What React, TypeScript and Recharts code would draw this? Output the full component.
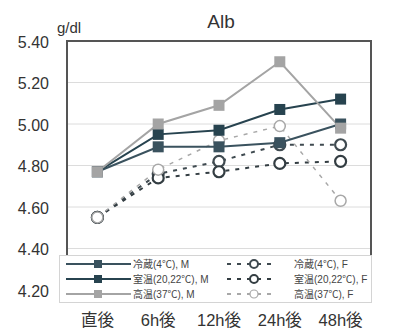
import { CartesianGrid, Legend, Line, LineChart, ReferenceArea, XAxis, YAxis } from "recharts"

const categories = ["直後", "6h後", "12h後", "24h後", "48h後"]
const coldM = [4.77, 4.89, 4.89, 4.91, 5.0]
const roomM = [4.77, 4.95, 4.97, 5.07, 5.12]
const hotM = [4.77, 5.0, 5.09, 5.3, 4.98]
const coldF = [4.55, 4.76, 4.82, 4.9, 4.9]
const roomF = [4.55, 4.74, 4.77, 4.81, 4.82]
const hotF = [4.55, 4.78, 4.92, 4.99, 4.63]
const yTicks = [4.2, 4.4, 4.6, 4.8, 5.0, 5.2, 5.4]

const mSeries = [
  { key: "coldM", name: "冷蔵(4℃), M", color: "#3a525e" },
  { key: "roomM", name: "室温(20,22℃), M", color: "#27434f" },
  { key: "hotM", name: "高温(37℃), M", color: "#a4a4a4" },
]
const fSeries = [
  { key: "coldF", name: "冷蔵(4℃), F", color: "#3f4a50" },
  { key: "roomF", name: "室温(20,22℃), F", color: "#333d42" },
  { key: "hotF", name: "高温(37℃), F", color: "#a8a8a8" },
]

// numeric x so the plot frame can span the half-category margins
const data = categories.map((c, i) => ({
  idx: i,
  cat: c,
  coldM: coldM[i],
  roomM: roomM[i],
  hotM: hotM[i],
  coldF: coldF[i],
  roomF: roomF[i],
  hotF: hotF[i],
}))
const xTicks = categories.map((_, i) => i)

const FONT = "'Liberation Sans', Arial, 'Noto Sans CJK JP', sans-serif"

const squareDot = (color: string) => (props: any) => {
  const { cx, cy, index } = props
  return <rect key={`sq-${index}`} x={cx - 5.5} y={cy - 5.5} width={11} height={11} fill={color} />
}

const circleDot = (color: string, w: number) => (props: any) => {
  const { cx, cy, index } = props
  return <circle key={`ci-${index}`} cx={cx} cy={cy} r={5.5} fill="#fff" stroke={color} strokeWidth={w} />
}

const LegendBox = () => {
  const rows = [0, 1, 2]
  return (
    <div style={{ width: 313, height: 48, background: "#fff", border: "1px solid #d4d4d4", boxSizing: "border-box" }}>
      <svg width={311} height={46} style={{ display: "block" }}>
        {rows.map((i) => {
          const y = 8 + i * 15
          const m = mSeries[i]
          const f = fSeries[i]
          return (
            <g key={i}>
              <line x1={6} x2={71} y1={y} y2={y} stroke={m.color} strokeWidth={2} />
              <rect x={34} y={y - 4} width={8} height={8} fill={m.color} />
              <text x={73} y={y} dominantBaseline="central" fontSize={10} fill="#444" fontFamily={FONT}>
                {m.name}
              </text>
              <line x1={167} x2={217} y1={y} y2={y} stroke={f.color} strokeWidth={2} strokeDasharray="4 6" />
              <circle cx={194} cy={y} r={4} fill="#fff" stroke={f.color} strokeWidth={i === 2 ? 1.2 : 2} />
              <text x={234} y={y} dominantBaseline="central" fontSize={10} fill="#444" fontFamily={FONT}>
                {f.name}
              </text>
            </g>
          )
        })}
      </svg>
    </div>
  )
}

export default function App() {
  return (
    <div style={{ position: "absolute", left: 0, top: 0, background: "#fff" }}>
      <LineChart width={393} height={331} data={data} margin={{ top: 41, right: 22, bottom: 0, left: 0 }}>
        <CartesianGrid vertical={false} stroke="#dcdcdc" strokeWidth={1} />
        <XAxis
          dataKey="idx"
          type="number"
          domain={[-0.5, categories.length - 0.5]}
          ticks={xTicks}
          height={41}
          axisLine={false}
          tickLine={false}
          tickSize={0}
          tick={(p: any) => (
            <text x={p.x} y={p.y + 28} textAnchor="middle" dominantBaseline="central" fontSize={16.5} fill="#333" fontFamily={FONT}>
              {categories[p.payload.value]}
            </text>
          )}
        />
        <YAxis
          domain={[4.2, 5.4]}
          ticks={yTicks}
          width={67}
          axisLine={false}
          tickLine={false}
          tick={(p: any) => (
            <text x={49} y={p.y + 1} textAnchor="end" dominantBaseline="central" fontSize={16} fill="#333" fontFamily={FONT}>
              {p.payload.value.toFixed(2)}
            </text>
          )}
        />
        <ReferenceArea
          x1={-0.5}
          x2={categories.length - 0.5}
          y1={4.2}
          y2={5.4}
          fill="none"
          stroke="#555"
          strokeWidth={2}
        />
        {fSeries.map((s, i) => (
          <Line
            key={s.key}
            dataKey={s.key}
            name={s.name}
            stroke={s.color}
            strokeWidth={i === 2 ? 1.5 : 2}
            strokeDasharray="4 6"
            dot={circleDot(s.color, i === 2 ? 1.5 : 2.2)}
            activeDot={false}
            isAnimationActive={false}
          />
        ))}
        {mSeries.map((s) => (
          <Line
            key={s.key}
            dataKey={s.key}
            name={s.name}
            stroke={s.color}
            strokeWidth={2}
            dot={squareDot(s.color)}
            activeDot={false}
            isAnimationActive={false}
          />
        ))}
        <Legend
          layout="horizontal"
          verticalAlign="middle"
          align="center"
          content={() => <LegendBox />}
          wrapperStyle={{ left: 59, top: 255, width: 313, height: 48 }}
        />
        <text x={221} y={21} textAnchor="middle" dominantBaseline="central" fontSize={19} fill="#333" fontFamily={FONT}>
          Alb
        </text>
        <text x={57} y={27} dominantBaseline="central" fontSize={15} fill="#333" fontFamily={FONT}>
          g/dl
        </text>
      </LineChart>
    </div>
  )
}
